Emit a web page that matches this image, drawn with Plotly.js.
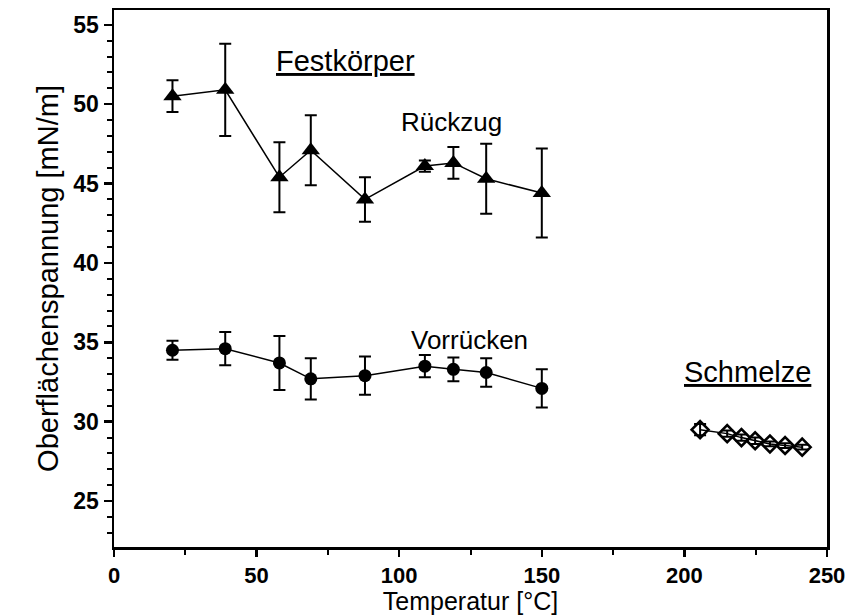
<!DOCTYPE html>
<html>
<head>
<meta charset="utf-8">
<script src="https://cdn.plot.ly/plotly-3.0.1.min.js"></script>
<style>html,body{margin:0;padding:0;background:#fff;}#chart{width:855px;height:615px;}</style>
</head>
<body>
<div id="chart"></div>
<script>
// Rückzug (Festkörper, triangles)
const rueckzugT   = [20.5, 39, 58, 69, 88, 109, 119, 130.5, 150];
const rueckzugY   = [50.5, 50.9, 45.4, 47.1, 44.0, 46.1, 46.3, 45.3, 44.4];
const rueckzugErr = [1.0, 2.9, 2.2, 2.2, 1.4, 0.35, 1.0, 2.2, 2.8];

// Vorrücken (Festkörper, circles)
const vorrueckenT   = [20.5, 39, 58, 69, 88, 109, 119, 130.5, 150];
const vorrueckenY   = [34.5, 34.6, 33.7, 32.7, 32.9, 33.5, 33.3, 33.1, 32.1];
const vorrueckenErr = [0.6, 1.05, 1.7, 1.3, 1.2, 0.7, 0.75, 0.9, 1.2];

// Schmelze (open diamonds)
const schmelzeT   = [205.5, 215, 220, 224.8, 230, 235.3, 241.3];
const schmelzeY   = [29.5, 29.25, 29.0, 28.8, 28.6, 28.5, 28.4];
const schmelzeErr = [0.35, 0.2, 0.2, 0.2, 0.15, 0.15, 0.15];

const xTicks = [0, 50, 100, 150, 200, 250];
const yTicks = [25, 30, 35, 40, 45, 50, 55];
const xRange = [0, 250];
const yRange = [22.11, 55.93];

const labels = ["Festkörper", "Rückzug", "Vorrücken", "Schmelze"];

const errStyle = (arr) => ({type: 'data', array: arr, visible: true, color: '#000', thickness: 2, width: 6});

const traces = [
  {x: rueckzugT, y: rueckzugY, error_y: errStyle(rueckzugErr), mode: 'lines+markers', type: 'scatter',
   line: {color: '#000', width: 1.5}, marker: {symbol: 'triangle-up', size: 16, color: '#000'}, cliponaxis: false},
  {x: vorrueckenT, y: vorrueckenY, error_y: errStyle(vorrueckenErr), mode: 'lines+markers', type: 'scatter',
   line: {color: '#000', width: 1.5}, marker: {symbol: 'circle', size: 13, color: '#000'}, cliponaxis: false},
  {x: schmelzeT, y: schmelzeY, error_y: errStyle(schmelzeErr), mode: 'lines+markers', type: 'scatter',
   line: {color: '#000', width: 1.5}, marker: {symbol: 'diamond-open', size: 13, color: '#000', line: {width: 2.6, color: '#000'}}, cliponaxis: false}
];

const annFont = (s) => ({family: 'Liberation Sans, Arial, sans-serif', size: s, color: '#000'});

const layout = {
  width: 855, height: 615,
  margin: {l: 114, r: 28, t: 10, b: 68},
  paper_bgcolor: '#fff', plot_bgcolor: '#fff',
  showlegend: false,
  xaxis: {
    range: xRange, tickmode: 'linear', tick0: xTicks[0], dtick: xTicks[1] - xTicks[0],
    showline: true, linecolor: '#000', linewidth: 2.5, mirror: true,
    ticks: 'outside', ticklen: 7, tickwidth: 2.5, tickcolor: '#000',
    minor: {tickmode: 'linear', tick0: xTicks[0], dtick: (xTicks[1] - xTicks[0]) / 2, ticks: 'outside', ticklen: 5, tickwidth: 2, tickcolor: '#000', showgrid: false},
    showgrid: false, zeroline: false,
    tickfont: {family: 'Liberation Sans, Arial, sans-serif', size: 22, color: '#000', weight: 'bold'},
    title: {text: 'Temperatur [°C]', font: {family: 'Liberation Sans, Arial, sans-serif', size: 25, color: '#000'}, standoff: 0}
  },
  yaxis: {
    range: yRange, tickmode: 'linear', tick0: yTicks[0], dtick: yTicks[1] - yTicks[0],
    showline: true, linecolor: '#000', linewidth: 2.5, mirror: true,
    ticks: 'outside', ticklen: 8, tickwidth: 2.5, tickcolor: '#000',
    minor: {tickmode: 'linear', tick0: yTicks[0], dtick: 1, ticks: 'outside', ticklen: 5, tickwidth: 2, tickcolor: '#000', showgrid: false},
    showgrid: false, zeroline: false,
    tickfont: {family: 'Liberation Sans, Arial, sans-serif', size: 23, color: '#000', weight: 'bold'},
    title: {text: 'Oberflächenspannung [mN/m]', font: {family: 'Liberation Sans, Arial, sans-serif', size: 29, color: '#000'}, standoff: 6}
  },
  annotations: [
    {xref: 'x', yref: 'y', x: 81, y: 52.72, text: '<u>' + labels[0] + '</u>', showarrow: false, font: annFont(29), xanchor: 'center', yanchor: 'middle'},
    {xref: 'x', yref: 'y', x: 118.5, y: 48.88, text: labels[1], showarrow: false, font: annFont(26), xanchor: 'center', yanchor: 'middle'},
    {xref: 'x', yref: 'y', x: 124.8, y: 35.15, text: labels[2], showarrow: false, font: annFont(26), xanchor: 'center', yanchor: 'middle'},
    {xref: 'x', yref: 'y', x: 222, y: 33.13, text: '<u>' + labels[3] + '</u>', showarrow: false, font: annFont(29), xanchor: 'center', yanchor: 'middle'}
  ]
};

Plotly.newPlot('chart', traces, layout, {displayModeBar: false, staticPlot: true});
</script>
</body>
</html>
